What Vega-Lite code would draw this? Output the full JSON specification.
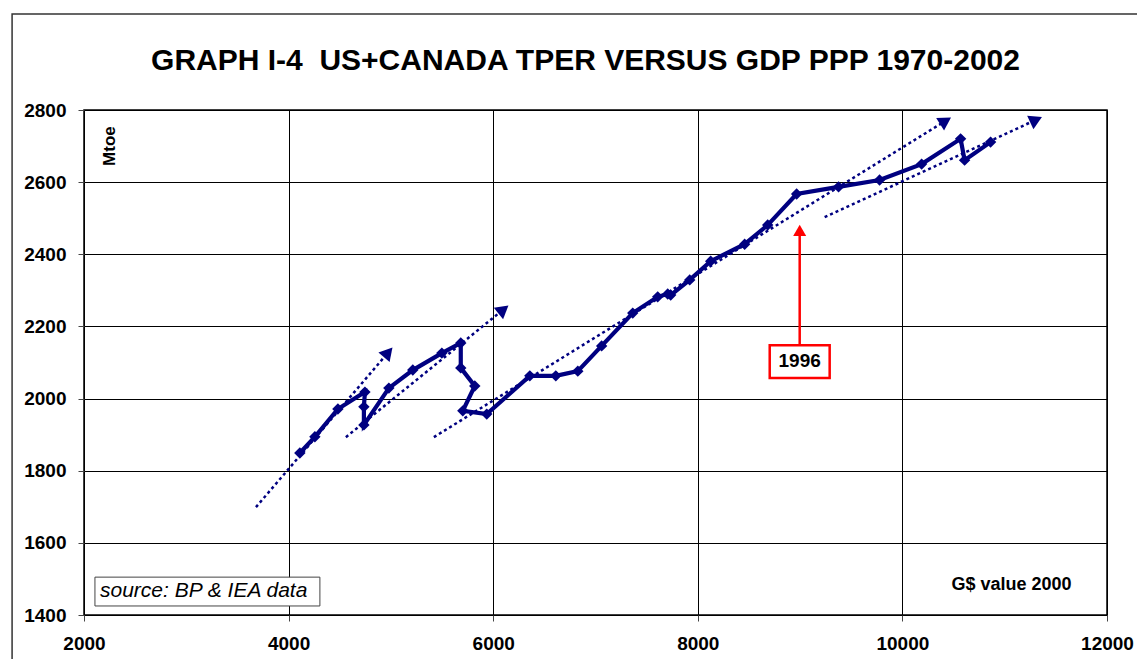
{
  "$schema": "https://vega.github.io/schema/vega-lite/v6.json",
  "width": 1023,
  "height": 505,
  "autosize": {"type": "none"},
  "padding": {"left": 84, "top": 110, "right": 30, "bottom": 44},
  "background": "white",
  "config": {
    "font": "Liberation Sans",
    "view": {"stroke": "black", "strokeWidth": 1.5},
    "axis": {
      "labelFont": "Liberation Sans",
      "labelFontWeight": "bold",
      "labelFontSize": 19,
      "labelColor": "black",
      "tickColor": "#444",
      "tickSize": 6,
      "gridColor": "black",
      "gridOpacity": 1,
      "gridWidth": 1,
      "domain": false,
      "labelOverlap": false,
      "labelFlush": false
    }
  },
  "title": {
    "text": "GRAPH I-4\u00a0 US+CANADA TPER VERSUS GDP PPP 1970-2002",
    "font": "Liberation Sans",
    "fontSize": 30,
    "fontWeight": "bold",
    "color": "black",
    "anchor": "middle",
    "orient": "top",
    "offset": -63,
    "dx": -10
  },
  "datasets": {
    "main": [
      {"year": 1970, "gdp": 4110, "tper": 1849},
      {"year": 1971, "gdp": 4257, "tper": 1894},
      {"year": 1972, "gdp": 4482, "tper": 1971},
      {"year": 1973, "gdp": 4746, "tper": 2018},
      {"year": 1974, "gdp": 4736, "tper": 1977},
      {"year": 1975, "gdp": 4736, "tper": 1927},
      {"year": 1976, "gdp": 4980, "tper": 2029},
      {"year": 1977, "gdp": 5214, "tper": 2079},
      {"year": 1978, "gdp": 5498, "tper": 2126},
      {"year": 1979, "gdp": 5683, "tper": 2154},
      {"year": 1980, "gdp": 5683, "tper": 2085},
      {"year": 1981, "gdp": 5820, "tper": 2035},
      {"year": 1982, "gdp": 5703, "tper": 1966},
      {"year": 1983, "gdp": 5937, "tper": 1957},
      {"year": 1984, "gdp": 6358, "tper": 2063},
      {"year": 1985, "gdp": 6612, "tper": 2063},
      {"year": 1986, "gdp": 6827, "tper": 2076},
      {"year": 1987, "gdp": 7060, "tper": 2146},
      {"year": 1988, "gdp": 7364, "tper": 2237},
      {"year": 1989, "gdp": 7608, "tper": 2282},
      {"year": 1990, "gdp": 7706, "tper": 2290},
      {"year": 1991, "gdp": 7735, "tper": 2287},
      {"year": 1992, "gdp": 7921, "tper": 2329},
      {"year": 1993, "gdp": 8126, "tper": 2381},
      {"year": 1994, "gdp": 8458, "tper": 2428},
      {"year": 1995, "gdp": 8683, "tper": 2481},
      {"year": 1996, "gdp": 8966, "tper": 2567},
      {"year": 1997, "gdp": 9376, "tper": 2587},
      {"year": 1998, "gdp": 9777, "tper": 2606},
      {"year": 1999, "gdp": 10188, "tper": 2650},
      {"year": 2000, "gdp": 10569, "tper": 2720},
      {"year": 2001, "gdp": 10608, "tper": 2661},
      {"year": 2002, "gdp": 10862, "tper": 2711}
    ],
    "trends": [
      {"line": "A", "gdp": 3681, "tper": 1699},
      {"line": "A", "gdp": 4974, "tper": 2128},
      {"line": "B", "gdp": 4560, "tper": 1893},
      {"line": "B", "gdp": 6100, "tper": 2247},
      {"line": "C", "gdp": 5420, "tper": 1893},
      {"line": "C", "gdp": 10422, "tper": 2770},
      {"line": "D", "gdp": 9240, "tper": 2503},
      {"line": "D", "gdp": 11307, "tper": 2773}
    ],
    "heads": [
      {"line": "A", "gdp": 4974, "tper": 2128},
      {"line": "B", "gdp": 6100, "tper": 2247},
      {"line": "C", "gdp": 10422, "tper": 2770},
      {"line": "D", "gdp": 11307, "tper": 2773}
    ],
    "frame": [{"x0": 1297, "x1": 12322, "y0": 1270, "y1": 3066}],
    "boxes": [
      {"name": "source", "x0": 2107, "x1": 4306, "y0": 1425, "y1": 1505},
      {"name": "1996", "x0": 8703, "x1": 9289, "y0": 2057, "y1": 2148}
    ],
    "arrow1996": [
      {"gdp": 8996, "tper": 2148, "tip": 2458}
    ],
    "arrowhead1996": [
      {"gdp": 8996, "tper": 2466}
    ],
    "labels": [
      {"name": "source", "label": "source: BP & IEA data", "gdp": 2156, "tper": 1466},
      {"name": "unit", "label": "G$ value 2000", "gdp": 11653, "tper": 1483},
      {"name": "year", "label": "1996", "gdp": 8996, "tper": 2104},
      {"name": "ytitle", "label": "Mtoe", "gdp": 2254, "tper": 2700}
    ]
  },
  "encoding": {
    "x": {
      "field": "gdp",
      "type": "quantitative",
      "scale": {"domain": [2000, 12000], "nice": false, "zero": false},
      "axis": {"title": null, "values": [2000, 4000, 6000, 8000, 10000, 12000], "labelPadding": 13, "format": "d"}
    },
    "y": {
      "field": "tper",
      "type": "quantitative",
      "scale": {"domain": [1400, 2800], "nice": false, "zero": false},
      "axis": {"title": null, "values": [1400, 1600, 1800, 2000, 2200, 2400, 2600, 2800], "labelPadding": 12, "format": "d"}
    }
  },
  "layer": [
    {
      "data": {"name": "frame"},
      "mark": {"type": "rect", "fill": null, "stroke": "#333", "strokeWidth": 1.5, "clip": false},
      "encoding": {
        "x": {"field": "x0", "type": "quantitative"},
        "x2": {"field": "x1"},
        "y": {"field": "y0", "type": "quantitative"},
        "y2": {"field": "y1"}
      }
    },
    {
      "data": {"name": "trends"},
      "mark": {"type": "line", "color": "#000080", "strokeWidth": 2.5, "strokeDash": [3, 3], "strokeCap": "butt"},
      "encoding": {"detail": {"field": "line"}}
    },
    {
      "data": {"name": "heads"},
      "transform": [{"filter": "datum.line === 'A'"}],
      "mark": {"type": "point", "shape": "triangle-up", "filled": true, "color": "#000080", "opacity": 1, "size": 220, "angle": 41}
    },
    {
      "data": {"name": "heads"},
      "transform": [{"filter": "datum.line === 'B'"}],
      "mark": {"type": "point", "shape": "triangle-up", "filled": true, "color": "#000080", "opacity": 1, "size": 220, "angle": 51}
    },
    {
      "data": {"name": "heads"},
      "transform": [{"filter": "datum.line === 'C'"}],
      "mark": {"type": "point", "shape": "triangle-up", "filled": true, "color": "#000080", "opacity": 1, "size": 220, "angle": 58}
    },
    {
      "data": {"name": "heads"},
      "transform": [{"filter": "datum.line === 'D'"}],
      "mark": {"type": "point", "shape": "triangle-up", "filled": true, "color": "#000080", "opacity": 1, "size": 220, "angle": 65}
    },
    {
      "data": {"name": "main"},
      "mark": {"type": "line", "color": "#000080", "strokeWidth": 4.2, "strokeJoin": "miter"},
      "encoding": {"order": {"field": "year"}}
    },
    {
      "data": {"name": "main"},
      "mark": {"type": "point", "shape": "diamond", "filled": true, "color": "#000080", "opacity": 1, "size": 130}
    },
    {
      "data": {"name": "arrow1996"},
      "mark": {"type": "rule", "color": "red", "strokeWidth": 2.5},
      "encoding": {"y2": {"field": "tip"}}
    },
    {
      "data": {"name": "arrowhead1996"},
      "mark": {"type": "point", "shape": "triangle-up", "filled": true, "color": "red", "opacity": 1, "size": 170}
    },
    {
      "data": {"name": "boxes"},
      "mark": {"type": "rect", "fill": "white", "clip": false},
      "encoding": {
        "x": {"field": "x0", "type": "quantitative"},
        "x2": {"field": "x1"},
        "y": {"field": "y0", "type": "quantitative"},
        "y2": {"field": "y1"},
        "stroke": {"field": "name", "type": "nominal", "scale": {"domain": ["source", "1996"], "range": ["#444", "red"]}, "legend": null},
        "strokeWidth": {"field": "name", "type": "nominal", "scale": {"domain": ["source", "1996"], "range": [1, 2.5]}, "legend": null}
      }
    },
    {
      "data": {"name": "labels"},
      "transform": [{"filter": "datum.name === 'source'"}],
      "mark": {"type": "text", "align": "left", "baseline": "middle", "fontStyle": "italic", "fontSize": 21, "color": "black"},
      "encoding": {"text": {"field": "label"}}
    },
    {
      "data": {"name": "labels"},
      "transform": [{"filter": "datum.name === 'unit'"}],
      "mark": {"type": "text", "align": "right", "baseline": "middle", "fontWeight": "bold", "fontSize": 18, "color": "black"},
      "encoding": {"text": {"field": "label"}}
    },
    {
      "data": {"name": "labels"},
      "transform": [{"filter": "datum.name === 'year'"}],
      "mark": {"type": "text", "align": "center", "baseline": "middle", "fontWeight": "bold", "fontSize": 19, "color": "black"},
      "encoding": {"text": {"field": "label"}}
    },
    {
      "data": {"name": "labels"},
      "transform": [{"filter": "datum.name === 'ytitle'"}],
      "mark": {"type": "text", "align": "center", "baseline": "middle", "fontWeight": "bold", "fontSize": 17, "angle": 270, "color": "black"},
      "encoding": {"text": {"field": "label"}}
    }
  ]
}
